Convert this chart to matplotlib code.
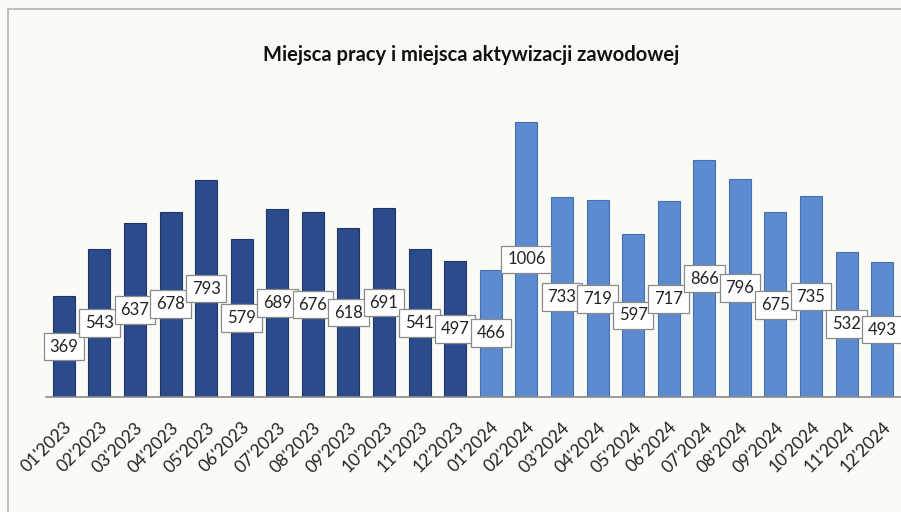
import matplotlib
matplotlib.use("Agg")
import matplotlib.pyplot as plt

months = ["01'2023", "02'2023", "03'2023", "04'2023", "05'2023", "06'2023",
          "07'2023", "08'2023", "09'2023", "10'2023", "11'2023", "12'2023",
          "01'2024", "02'2024", "03'2024", "04'2024", "05'2024", "06'2024",
          "07'2024", "08'2024", "09'2024", "10'2024", "11'2024", "12'2024"]
values = [369, 543, 637, 678, 793, 579, 689, 676, 618, 691, 541, 497,
          466, 1006, 733, 719, 597, 717, 866, 796, 675, 735, 532, 493]
title = "Miejsca pracy i miejsca aktywizacji zawodowej"

c2023 = "#2c4b8c"
c2024 = "#5d8bd0"
colors = [c2023 if m.endswith("2023") else c2024 for m in months]
edges = ["#1f3568" if m.endswith("2023") else "#4470b0" for m in months]

W, H = 901, 512
fig = plt.figure(figsize=(W / 100, H / 100), dpi=100)
bg = "#fafbf6"
fig.patch.set_facecolor(bg)

# frame lines (left and top)
fig.add_artist(plt.Line2D([7.5 / W, 7.5 / W], [0, 1 - 9 / H], color="#b4b4b4", lw=1.2,
                          transform=fig.transFigure))
fig.add_artist(plt.Line2D([7.5 / W, 1], [1 - 9 / H, 1 - 9 / H], color="#b4b4b4", lw=1.2,
                          transform=fig.transFigure))

ax_left, ax_right = 46, 900
ax_bottom, ax_top = 397, 60
ax = fig.add_axes([ax_left / W, 1 - ax_bottom / H, (ax_right - ax_left) / W, (ax_bottom - ax_top) / H])
ax.set_facecolor(bg)
ax.patch.set_alpha(0)

x = list(range(len(months)))
ax.bar(x, values, width=0.62, color=colors, edgecolor=edges, linewidth=0.8, zorder=2)
ymax = 1006 * (ax_bottom - ax_top) / (397 - 122)
ax.set_ylim(0, ymax)
ax.set_xlim(-0.5, len(months) - 0.5)

for xi, v in zip(x, values):
    ax.text(xi, v / 2, str(v), ha="center", va="center", fontsize=12, family="Lato",
            color="#222222", zorder=4,
            bbox=dict(boxstyle="square,pad=0.35", facecolor="white", edgecolor="#8a8a8a", lw=0.9))

for s in ["top", "right", "left"]:
    ax.spines[s].set_visible(False)
ax.spines["bottom"].set_color("#8a8a8a")
ax.spines["bottom"].set_linewidth(1.2)
ax.set_yticks([])
ax.set_xticks(x)
ax.set_xticklabels(months, rotation=45, ha="right", rotation_mode="anchor",
                   fontsize=12.5, family="Lato", color="#222222")
ax.tick_params(axis="x", length=0, pad=16)

fig.text(471 / W, 1 - 55 / H, title, ha="center", va="center", fontsize=14.5,
         fontweight="bold", family="Lato", color="#111111")

fig.savefig("out.png", dpi=100, facecolor=bg)
